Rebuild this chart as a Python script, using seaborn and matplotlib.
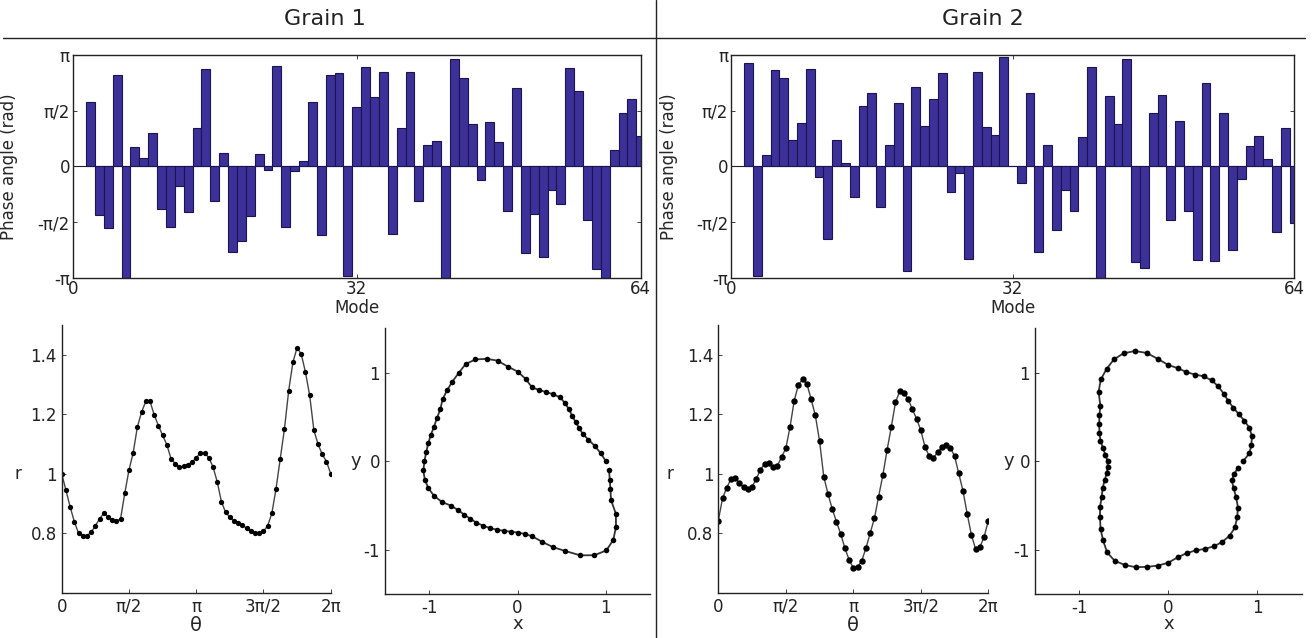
import numpy as np
import matplotlib
matplotlib.use("Agg")
import matplotlib.pyplot as plt
from matplotlib.lines import Line2D
import seaborn as sns

sns.set_style("ticks", {"xtick.direction": "in", "ytick.direction": "in"})
plt.rcParams["font.family"] = ["DejaVu Sans"]
plt.rcParams["font.size"] = 12

# Fourier mode numbers shown in the phase spectra
modes = np.arange(2, 65)

# Phase angle of each mode, in units of pi
grain1_phase = [
    0.574, -0.441, -0.556, 0.820, -1.000, 0.174, 0.078, 0.303, -0.381, -0.541,
    -0.177, -0.411, 0.345, 0.874, -0.315, 0.120, -0.766, -0.667, -0.450, 0.108,
    -0.030, 0.900, -0.541, -0.042, 0.048, 0.580, -0.616, 0.820, 0.841, -0.982,
    0.535, 0.895, 0.625, 0.844, -0.607, 0.348, 0.850, -0.315, 0.189, 0.228,
    -1.000, 0.961, 0.796, 0.378, -0.126, 0.402, 0.216, -0.405, 0.706, -0.781,
    -0.426, -0.811, -0.216, -0.336, 0.880, 0.676, -0.486, -0.922, -1.000, 0.144,
    0.483, 0.607, 0.270,
]
grain2_phase = [
    0.925, -0.982, 0.099, 0.865, 0.796, 0.234, 0.393, 0.874, -0.096, -0.652,
    0.234, 0.030, -0.276, 0.544, 0.655, -0.366, 0.189, 0.565, -0.937, 0.715,
    0.360, 0.601, 0.835, -0.231, -0.060, -0.832, 0.844, 0.354, 0.285, 0.985,
    0.004, -0.147, 0.655, -0.772, 0.189, -0.568, -0.216, -0.405, 0.264, 0.889,
    -1.000, 0.631, 0.378, 0.961, -0.862, -0.916, 0.480, 0.640, -0.480, 0.408,
    -0.405, -0.841, 0.745, -0.853, 0.480, -0.751, -0.111, 0.180, 0.270, 0.069,
    -0.586, 0.348, -0.511,
]

# Boundary radius sampled every pi/32 around the grain
theta_index = np.arange(65)
grain1_r = [
    1.000, 0.945, 0.889, 0.839, 0.800, 0.792, 0.792, 0.803, 0.825, 0.848,
    0.867, 0.856, 0.845, 0.840, 0.848, 0.934, 1.012, 1.070, 1.157, 1.207,
    1.243, 1.244, 1.198, 1.162, 1.129, 1.098, 1.051, 1.034, 1.022, 1.025,
    1.030, 1.039, 1.053, 1.071, 1.070, 1.054, 1.023, 0.973, 0.906, 0.870,
    0.854, 0.842, 0.836, 0.826, 0.817, 0.809, 0.802, 0.800, 0.806, 0.825,
    0.867, 0.950, 1.051, 1.151, 1.279, 1.374, 1.424, 1.402, 1.341, 1.263,
    1.146, 1.099, 1.065, 1.041, 1.000,
]
grain2_r = [
    0.842, 0.917, 0.953, 0.982, 0.986, 0.969, 0.954, 0.948, 0.956, 0.983,
    1.014, 1.034, 1.037, 1.022, 1.027, 1.056, 1.085, 1.157, 1.246, 1.299,
    1.318, 1.302, 1.251, 1.196, 1.110, 0.990, 0.932, 0.882, 0.839, 0.798,
    0.750, 0.711, 0.683, 0.686, 0.707, 0.750, 0.800, 0.850, 0.923, 0.995,
    1.079, 1.157, 1.240, 1.277, 1.270, 1.252, 1.216, 1.185, 1.146, 1.090,
    1.059, 1.054, 1.072, 1.090, 1.095, 1.088, 1.059, 1.001, 0.942, 0.865,
    0.794, 0.746, 0.753, 0.787, 0.842,
]

phase_ticks = ["-π", "-π/2", "0", "π/2", "π"]
theta_ticks = ["0", "π/2", "π", "3π/2", "2π"]

BAR = "#3b3199"
EDGE = "#1c1450"
INK = "#222222"

W, H = 1314, 638
fig = plt.figure(figsize=(W / 100, H / 100), dpi=100)


def box(left, top, right, bottom):
    return [left / W, 1 - bottom / H, (right - left) / W, (bottom - top) / H]


def phase_panel(rect, values, label_x):
    ax = fig.add_axes(rect)
    phase = np.asarray(values) * np.pi
    sns.barplot(x=modes, y=phase, native_scale=True, color=BAR, edgecolor=EDGE,
                linewidth=0.8, width=1.0, errorbar=None, saturation=1, ax=ax)
    ax.axhline(0, color=INK, lw=0.8, zorder=0)
    ax.set_xlim(0, 64)
    ax.set_ylim(-np.pi, np.pi)
    ax.set_xticks([0, 32, 64])
    ax.set_xticklabels(["0", "32", "64"])
    ax.set_yticks(np.arange(-2, 3) * np.pi / 2)
    ax.set_yticklabels(phase_ticks)
    ax.tick_params(top=True, right=True, length=3, width=0.6, pad=2,
                   labelsize=12, colors=INK)
    for s in ax.spines.values():
        s.set_color(INK)
        s.set_linewidth(1.0)
    ax.set_xlabel("Mode", fontsize=12, labelpad=0.5)
    ax.set_ylabel("Phase angle (rad)", fontsize=12)
    ax.yaxis.set_label_coords(label_x, 0.5)
    return ax


def radius_panel(rect, r, label_x, ms):
    ax = fig.add_axes(rect)
    theta = theta_index * np.pi / 32
    sns.lineplot(x=theta, y=r, marker="o", markersize=ms, color="#444444",
                 linewidth=1.0, markerfacecolor="black", markeredgecolor="black",
                 markeredgewidth=0, ax=ax)
    ax.set_xlim(0, 2 * np.pi)
    ax.set_ylim(0.6, 1.5)
    ax.set_xticks(np.arange(5) * np.pi / 2)
    ax.set_xticklabels(theta_ticks)
    ax.set_yticks([0.8, 1.0, 1.2, 1.4])
    ax.set_yticklabels(["0.8", "1", "1.2", "1.4"])
    ax.tick_params(length=3, width=0.6, labelsize=12, colors=INK)
    sns.despine(ax=ax)
    for s in ("left", "bottom"):
        ax.spines[s].set_color(INK)
        ax.spines[s].set_linewidth(1.0)
    ax.set_xlabel("θ", fontsize=14, labelpad=0)
    ax.set_ylabel("r", fontsize=12, rotation=0, va="center")
    ax.yaxis.set_label_coords(label_x, 0.444)
    return ax


def outline_panel(rect, r, label_x, ms):
    ax = fig.add_axes(rect)
    theta = theta_index * np.pi / 32
    rr = np.asarray(r)
    x = rr * np.cos(theta)
    y = rr * np.sin(theta)
    sns.lineplot(x=x, y=y, sort=False, marker="o", markersize=ms,
                 color="#333333", linewidth=1.3, markerfacecolor="black",
                 markeredgecolor="black", markeredgewidth=0, ax=ax)
    ax.set_xlim(-1.5, 1.5)
    ax.set_ylim(-1.5, 1.5)
    ax.set_xticks([-1, 0, 1])
    ax.set_xticklabels(["-1", "0", "1"])
    ax.set_yticks([-1, 0, 1])
    ax.set_yticklabels(["-1", "0", "1"])
    ax.tick_params(length=3, width=0.6, labelsize=12, colors=INK)
    sns.despine(ax=ax)
    for s in ("left", "bottom"):
        ax.spines[s].set_color(INK)
        ax.spines[s].set_linewidth(1.0)
    ax.set_xlabel("x", fontsize=13, labelpad=-1)
    ax.set_ylabel("y", fontsize=13, rotation=0, va="center")
    ax.yaxis.set_label_coords(label_x, 0.5)
    return ax


# Grain 1
phase_panel(box(72.7, 55, 640.7, 277.7), grain1_phase, -0.096)
radius_panel(box(61.7, 325, 330.7, 592.7), grain1_r, -0.162, 3.8)
outline_panel(box(385, 328.3, 650, 594), grain1_r, -0.11, 4.0)

# Grain 2
phase_panel(box(731, 55, 1294, 277.7), grain2_phase, -0.094)
radius_panel(box(718.3, 325, 988.3, 592.7), grain2_r, -0.179, 4.6)
outline_panel(box(1035, 328.3, 1301.7, 594), grain2_r, -0.10, 4.2)

# Headers and dividers
fig.text(325 / W, 1 - 19 / H, "Grain 1", ha="center", va="center", fontsize=16, color=INK)
fig.text(983 / W, 1 - 19 / H, "Grain 2", ha="center", va="center", fontsize=16, color=INK)
fig.add_artist(Line2D([0.002, 1305 / W], [1 - 38 / H, 1 - 38 / H],
                      transform=fig.transFigure, color=INK, lw=1.0))
fig.add_artist(Line2D([656 / W, 656 / W], [0, 1], transform=fig.transFigure,
                      color=INK, lw=1.0))

fig.savefig("out.png", dpi=100)
